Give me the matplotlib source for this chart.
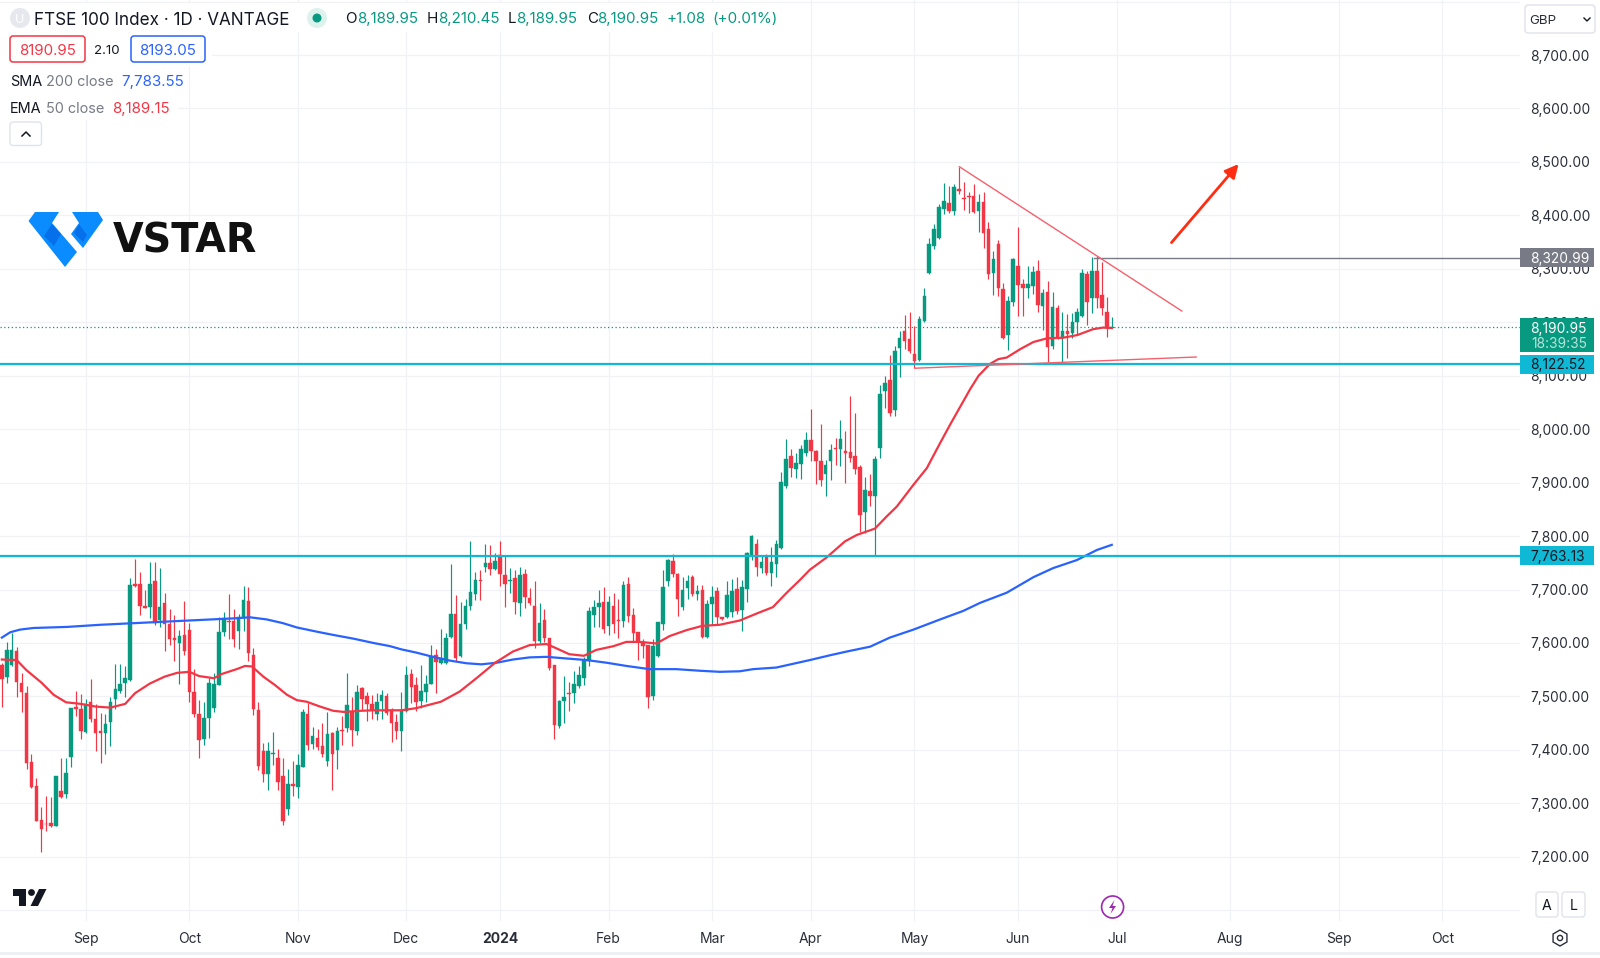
"""
FTSE 100 daily candlestick chart, VANTAGE feed, with SMA 200 and EMA 50.
"""

import matplotlib.pyplot as plt
import numpy as np
from matplotlib.patches import Circle, FancyBboxPatch, Polygon, Rectangle, RegularPolygon

plt.rcParams["font.family"] = ["Inter", "Liberation Sans", "DejaVu Sans"]

opens = [
    7559, 7537, 7559, 7585, 7526, 7506, 7377, 7332, 7269, 7262,
    7264, 7258, 7323, 7317, 7386, 7481, 7476, 7434, 7489, 7458,
    7435, 7432, 7452, 7496, 7511, 7526, 7531, 7710, 7711, 7669,
    7667, 7716, 7643, 7674, 7636, 7610, 7600, 7614, 7625, 7509,
    7468, 7421, 7460, 7478, 7521, 7621, 7642, 7642, 7623, 7646,
    7679, 7577, 7475, 7397, 7355, 7392, 7384, 7351, 7289, 7336,
    7331, 7368, 7467, 7411, 7423, 7407, 7380, 7431, 7400, 7437,
    7440, 7471, 7436, 7516, 7500, 7485, 7467, 7491, 7500, 7474,
    7452, 7436, 7473, 7542, 7521, 7491, 7508, 7524, 7577, 7562,
    7563, 7612, 7655, 7575, 7635, 7669, 7691, 7718, 7743, 7749,
    7738, 7764, 7728, 7715, 7722, 7675, 7729, 7685, 7670, 7603,
    7643, 7609, 7559, 7445, 7492, 7506, 7507, 7520, 7534, 7567,
    7652, 7668, 7677, 7632, 7669, 7643, 7642, 7710, 7653, 7620,
    7602, 7596, 7501, 7575, 7635, 7715, 7753, 7729, 7667, 7702,
    7724, 7691, 7699, 7612, 7673, 7697, 7648, 7648, 7658, 7701,
    7662, 7701, 7764, 7786, 7740, 7760, 7730, 7748, 7777, 7893,
    7950, 7926, 7935, 7955, 7980, 7959, 7941, 7916, 7940, 7965,
    7963, 7959, 7958, 7949, 7930, 7845, 7885, 7875, 7964, 8072,
    8092, 8035, 8151, 8184, 8168, 8140, 8129, 8203, 8292, 8343,
    8357, 8411, 8423, 8408, 8450, 8433, 8436, 8436, 8408, 8425,
    8374, 8292, 8346, 8262, 8176, 8238, 8305, 8271, 8264, 8268,
    8296, 8231, 8257, 8155, 8227, 8171, 8183, 8180, 8201, 8211,
    8291, 8246, 8295, 8251, 8220, 8189.95,
]
highs = [
    7562, 7602, 7618, 7593, 7543, 7520, 7393, 7347, 7294, 7314,
    7312, 7351, 7384, 7385, 7479, 7510, 7504, 7496, 7532, 7486,
    7469, 7468, 7498, 7560, 7560, 7556, 7721, 7757, 7732, 7699,
    7751, 7751, 7741, 7693, 7663, 7652, 7625, 7679, 7637, 7551,
    7494, 7490, 7534, 7543, 7648, 7658, 7691, 7663, 7655, 7706,
    7705, 7591, 7489, 7412, 7415, 7434, 7401, 7384, 7365, 7379,
    7392, 7476, 7487, 7443, 7439, 7451, 7471, 7434, 7443, 7463,
    7543, 7499, 7522, 7518, 7509, 7503, 7506, 7512, 7506, 7478,
    7468, 7509, 7556, 7552, 7537, 7559, 7540, 7596, 7588, 7627,
    7618, 7747, 7690, 7677, 7683, 7791, 7733, 7736, 7786, 7783,
    7768, 7791, 7764, 7741, 7736, 7743, 7739, 7702, 7715, 7674,
    7663, 7609, 7559, 7493, 7539, 7527, 7547, 7556, 7574, 7668,
    7681, 7700, 7704, 7688, 7693, 7683, 7715, 7724, 7665, 7621,
    7607, 7596, 7607, 7640, 7736, 7758, 7766, 7730, 7724, 7727,
    7727, 7708, 7708, 7680, 7706, 7704, 7648, 7715, 7719, 7723,
    7718, 7771, 7802, 7794, 7764, 7766, 7780, 7792, 7919, 7981,
    7963, 7955, 7971, 7994, 8037, 7961, 8010, 7943, 7972, 7983,
    8018, 7996, 8062, 8030, 7933, 7911, 7916, 7949, 8083, 8100,
    8138, 8156, 8184, 8214, 8219, 8193, 8212, 8265, 8358, 8383,
    8421, 8461, 8455, 8458, 8491, 8463, 8444, 8458, 8440, 8444,
    8388, 8333, 8354, 8274, 8249, 8321, 8378, 8280, 8305, 8305,
    8316, 8262, 8277, 8256, 8232, 8220, 8215, 8218, 8226, 8300,
    8296, 8323, 8324, 8313, 8248, 8210.45,
]
lows = [
    7481, 7526, 7556, 7499, 7471, 7365, 7328, 7266, 7209, 7249,
    7255, 7257, 7309, 7309, 7368, 7463, 7421, 7432, 7453, 7397,
    7376, 7392, 7407, 7476, 7506, 7499, 7529, 7705, 7652, 7665,
    7646, 7634, 7630, 7585, 7596, 7566, 7524, 7577, 7490, 7461,
    7385, 7409, 7423, 7471, 7521, 7613, 7607, 7592, 7588, 7622,
    7567, 7466, 7362, 7339, 7325, 7372, 7325, 7259, 7278, 7314,
    7309, 7367, 7400, 7401, 7400, 7387, 7370, 7324, 7364, 7409,
    7434, 7407, 7428, 7474, 7454, 7457, 7456, 7457, 7465, 7415,
    7420, 7397, 7471, 7487, 7473, 7479, 7490, 7523, 7507, 7560,
    7561, 7610, 7567, 7574, 7626, 7662, 7680, 7681, 7733, 7727,
    7736, 7706, 7668, 7693, 7655, 7650, 7665, 7671, 7590, 7599,
    7602, 7549, 7420, 7441, 7451, 7473, 7487, 7515, 7521, 7557,
    7630, 7630, 7618, 7615, 7618, 7610, 7630, 7640, 7602, 7568,
    7571, 7478, 7494, 7573, 7625, 7706, 7724, 7650, 7662, 7683,
    7688, 7681, 7609, 7610, 7633, 7635, 7643, 7646, 7648, 7655,
    7622, 7677, 7755, 7725, 7730, 7727, 7706, 7724, 7776, 7890,
    7911, 7908, 7906, 7949, 7941, 7898, 7894, 7874, 7904, 7933,
    7931, 7899, 7938, 7916, 7807, 7805, 7857, 7764, 7946, 8039,
    8025, 8025, 8097, 8150, 8142, 8115, 8128, 8201, 8291, 8337,
    8355, 8402, 8404, 8400, 8440, 8410, 8405, 8404, 8368, 8338,
    8280, 8251, 8249, 8168, 8148, 8231, 8212, 8212, 8246, 8252,
    8219, 8186, 8125, 8150, 8169, 8123, 8133, 8170, 8176, 8209,
    8194, 8218, 8227, 8213, 8173, 8189.95,
]
closes = [
    7532, 7587, 7587, 7527, 7508, 7376, 7330, 7267, 7252, 7261,
    7257, 7351, 7311, 7356, 7478, 7477, 7436, 7486, 7458, 7431,
    7432, 7449, 7489, 7514, 7524, 7534, 7708, 7707, 7670, 7666,
    7711, 7638, 7667, 7635, 7607, 7605, 7613, 7585, 7509, 7467,
    7418, 7459, 7526, 7524, 7621, 7646, 7639, 7607, 7648, 7680,
    7582, 7476, 7370, 7355, 7397, 7395, 7340, 7267, 7337, 7332,
    7371, 7471, 7409, 7425, 7406, 7393, 7430, 7392, 7435, 7435,
    7483, 7437, 7508, 7496, 7486, 7474, 7489, 7502, 7469, 7450,
    7436, 7474, 7540, 7517, 7490, 7510, 7524, 7575, 7565, 7571,
    7610, 7655, 7571, 7635, 7669, 7695, 7718, 7715, 7749, 7739,
    7754, 7729, 7710, 7718, 7676, 7728, 7686, 7675, 7604, 7638,
    7609, 7554, 7446, 7492, 7498, 7505, 7524, 7540, 7568, 7659,
    7667, 7674, 7627, 7677, 7635, 7642, 7708, 7650, 7619, 7604,
    7594, 7498, 7594, 7640, 7704, 7756, 7729, 7683, 7700, 7715,
    7691, 7697, 7612, 7672, 7686, 7648, 7644, 7690, 7697, 7660,
    7704, 7769, 7800, 7743, 7751, 7731, 7751, 7786, 7901, 7945,
    7927, 7936, 7963, 7980, 7959, 7941, 7905, 7933, 7961, 7962,
    7981, 7956, 7946, 7925, 7840, 7886, 7874, 7945, 8065, 8086,
    8030, 8146, 8170, 8165, 8146, 8127, 8206, 8249, 8346, 8375,
    8416, 8427, 8409, 8453, 8446, 8431, 8435, 8406, 8425, 8367,
    8291, 8318, 8264, 8170, 8240, 8319, 8269, 8264, 8272, 8294,
    8232, 8254, 8154, 8229, 8170, 8184, 8178, 8201, 8220, 8292,
    8238, 8295, 8245, 8227, 8190, 8190.95,
]

ema_bars = [
    0, 3, 5, 8, 10.5, 13, 16, 19, 22, 25, 27, 30, 33, 35.5, 38, 40, 43, 44.6, 47.6, 49.3,
    50.7, 53, 55.4, 57.8, 59.8, 61.8, 64.5, 67.2, 69.3, 72.6, 75.3, 78, 81, 84, 89, 92.8,
    96.2, 100, 103.6, 107, 110.4, 112.4, 115, 118, 120.5, 124, 126.6, 129.3, 132.7, 135.4,
    138.8, 142, 145.5, 149.6, 153, 156.3, 159, 161.8, 163.8, 167.2, 170.9, 173.3, 177,
    179.4, 181.4, 184.8, 187.5, 190.2, 192.2, 196.3, 198, 200.3, 202, 203.7, 206.5, 209.1,
    211.9, 215.1, 218, 221.2, 223.2, 225,
]
ema_values = [
    7569, 7568, 7549, 7526, 7503, 7489, 7486, 7481, 7479, 7486, 7506, 7524, 7537, 7544, 7546, 7538, 7534, 7542, 7551, 7557,
    7556, 7537, 7521, 7503, 7493, 7490, 7481, 7473, 7471, 7473, 7474, 7474, 7474, 7478, 7490, 7509,
    7534, 7563, 7584, 7596, 7598, 7590, 7579, 7576, 7587, 7594, 7602, 7602, 7599, 7613,
    7624, 7632, 7634, 7642, 7655, 7667, 7693, 7718, 7737, 7760, 7790, 7802, 7814,
    7837, 7855, 7896, 7927, 7974, 8008, 8075, 8100, 8122, 8131, 8134, 8150, 8163,
    8170, 8171, 8176, 8187, 8190, 8189.15,
]
sma_bars = [
    0, 1.7, 3.7, 6.4, 13.2, 20, 26.7, 33.4, 40.2, 47, 50.3, 53.7, 57, 59.8, 63.9, 67.2, 71.3, 75.3, 78.7,
    81, 84, 87.4, 90.8, 94.2, 97.2, 100.3, 103.6, 107, 110.4, 114.4, 118.5, 122.6, 126.6, 131.3, 136.7,
    141.5, 145.5, 149.6, 152.3, 157, 163.8, 167.9, 171.3, 176, 180, 184.8, 190.2, 194.9, 198.3, 203.7,
    209.1, 213.1, 217.9, 222, 225,
]
sma_values = [
    7610, 7620, 7625, 7628, 7630, 7634, 7637, 7640, 7643, 7646, 7648, 7644, 7637, 7629, 7621, 7615, 7608, 7600, 7594,
    7588, 7582, 7574, 7567, 7562, 7560, 7563, 7569, 7573, 7574, 7571, 7568, 7563, 7557, 7551, 7551,
    7548, 7546, 7547, 7551, 7554, 7568, 7577, 7584, 7593, 7610, 7625, 7644, 7660, 7675, 7694,
    7723, 7740, 7755, 7774, 7783.55,
]

price_ticks = [8800, 8700, 8600, 8500, 8400, 8300, 8200, 8100, 8000, 7900, 7800, 7700, 7600, 7500, 7400, 7300, 7200, 7100]
price_labels = ["", "8,700.00", "8,600.00", "8,500.00", "8,400.00", "8,300.00", "8,200.00", "8,100.00", "8,000.00",
                "7,900.00", "7,800.00", "7,700.00", "7,600.00", "7,500.00", "7,400.00", "7,300.00", "7,200.00", ""]
month_bars = [17, 38, 60, 82, 101, 123, 144, 164, 185, 206, 226, 249, 271, 292]
month_labels = ["Sep", "Oct", "Nov", "Dec", "2024", "Feb", "Mar", "Apr", "May", "Jun", "Jul", "Aug", "Sep", "Oct"]

last_price = 8190.95
support_level = 8122.52
lower_level = 7763.13
swing_high = 8320.99

# Hand drawn trend lines and arrow: bar position, price
falling_bars = [194.1, 239.2]
falling_prices = [8491, 8221]
rising_bars = [185.1, 242.1]
rising_prices = [8114, 8135]
swing_start = 221.3
arrow_bars = [237.1, 250.7]
arrow_prices = [8349, 8496]

GREEN = "#089981"
RED = "#f23645"
BLUE = "#2962ff"
CYAN = "#0fb9d6"
GREY = "#787b86"
DARK = "#131722"
GRID = "#f1f2f6"
BORDER = "#e0e3eb"

fig = plt.figure(figsize=(16, 9.58), dpi=100)
ax = fig.add_axes([0, 37 / 958, 1520 / 1600, 921 / 958])
ax.set_xlim(-0.373, 307.75)
ax.set_ylim(7079.8, 8802.9)
for spine in ax.spines.values():
    spine.set_visible(False)

ax.set_yticks(price_ticks, price_labels)
ax.set_xticks(month_bars, month_labels)
ax.yaxis.tick_right()
ax.tick_params(axis="y", length=0, pad=7.2, labelsize=9.9, labelcolor="#2a2e39")
ax.tick_params(axis="x", length=0, pad=8, labelsize=10, labelcolor="#2a2e39")
ax.get_xticklabels()[4].set_fontweight("bold")
for tick in ax.get_yticklabels():
    tick.set_va("center_baseline")
ax.grid(True, color=GRID, linewidth=0.9)
ax.set_axisbelow(True)

o = np.array(opens)
h = np.array(highs)
l = np.array(lows)
c = np.array(closes)
bars = np.arange(len(c))
colors = np.where(c >= o, GREEN, RED)

# Candles
ax.vlines(bars, l, h, colors=colors, linewidth=0.85, zorder=2)
ax.bar(bars, np.abs(c - o), bottom=np.minimum(o, c), width=0.72, color=colors,
       edgecolor=colors, linewidth=0.3, zorder=3)

# Indicators
ax.plot(sma_bars, sma_values, color=BLUE, linewidth=1.6, zorder=4)
ax.plot(ema_bars, ema_values, color=RED, linewidth=1.6, zorder=4)

# Levels and drawings
ax.axhline(last_price, color=GREEN, linewidth=0.9, linestyle=(0, (1, 2)), zorder=4)
ax.axhline(support_level, color=CYAN, linewidth=1.6, zorder=5)
ax.axhline(lower_level, color=CYAN, linewidth=1.6, zorder=5)
ax.plot([swing_start, 307.75], [swing_high, swing_high], color=GREY, linewidth=1.0, zorder=5)
ax.plot(falling_bars, falling_prices, color="#f6606c", linewidth=1.0, zorder=5)
ax.plot(rising_bars, rising_prices, color="#f6606c", linewidth=1.0, zorder=5)
ax.annotate("", xy=(arrow_bars[1], arrow_prices[1]), xytext=(arrow_bars[0], arrow_prices[0]),
            arrowprops=dict(arrowstyle="-|>", color="#ff2d12", lw=2.0, mutation_scale=20,
                            shrinkA=0, shrinkB=0), zorder=6)

# Overlay in pixels for the platform furniture
ui = fig.add_axes([0, 0, 1, 1], facecolor="none", zorder=5)
ui.set_xlim(0, 1600)
ui.set_ylim(958, 0)
ui.axis("off")


def label(x, y, text, color=DARK, size=10.9, ha="left", **kwargs):
    ui.text(x, y, text, color=color, fontsize=size, ha=ha, va="center_baseline", **kwargs)


def box(x0, y0, x1, y1, edge=BORDER, face="white", lw=1.0, radius=3):
    ui.add_patch(FancyBboxPatch((x0 + radius, y0 + radius), x1 - x0 - 2 * radius, y1 - y0 - 2 * radius,
                                boxstyle=f"round,pad={radius},rounding_size={radius}",
                                edgecolor=edge, facecolor=face, linewidth=lw))


# White backing of the legend rows
for x0, y0, x1, y1 in [(0, 3, 785, 32), (0, 32, 212, 66), (0, 66, 188, 94), (0, 94, 178, 120), (0, 120, 47, 150)]:
    ui.add_patch(Rectangle((x0, y0), x1 - x0, y1 - y0, facecolor="white", edgecolor="none"))

ui.add_patch(Circle((20, 18), 10, facecolor="#e6e8ee", edgecolor="none"))
label(20, 18, "U", color="white", size=9, ha="center")
label(34.5, 18, "FTSE 100 Index · 1D · VANTAGE", size=12.3)
ui.add_patch(Circle((317, 18), 10, facecolor="#def2ed", edgecolor="none"))
ui.add_patch(Circle((317, 18), 4.5, facecolor=GREEN, edgecolor="none"))

for x, text, color in [
    (345.4, "O", DARK), (357, "8,189.95", GREEN), (426.5, "H", DARK), (438, "8,210.45", GREEN),
    (507.6, "L", DARK), (516, "8,189.95", GREEN), (586.7, "C", DARK), (597, "8,190.95", GREEN),
    (666, "+1.08", GREEN), (712, "(+0.01%)", GREEN),
]:
    label(x, 17.5, text, color=color)

box(10, 36, 85, 62, edge=RED, lw=1.1)
label(47.5, 49, "8190.95", color=RED, ha="center")
label(107, 49, "2.10", size=9.6, ha="center")
box(131, 36, 205, 62, edge=BLUE, lw=1.1)
label(168, 49, "8193.05", color=BLUE, ha="center")

label(10, 80, "SMA", size=10.4)
label(46.4, 80, "200 close", color=GREY, size=10.4)
label(121.4, 80, "7,783.55", color=BLUE)
label(10, 107, "EMA", size=10.4)
label(46, 107, "50 close", color=GREY, size=10.4)
label(111.7, 107, "8,189.15", color=RED)
box(10, 122, 41.5, 145.5)
ui.plot([22, 26, 30], [136, 132, 136], color=DARK, linewidth=1.1)

# Logo
ui.add_patch(Polygon([(35, 212), (59, 212), (52, 223), (77, 252), (65, 267), (28.5, 221)], facecolor="#0a8cff", edgecolor="none"))
ui.add_patch(Polygon([(44, 236), (52, 224), (61, 234), (54, 246)], facecolor="#0670ea", edgecolor="none"))
ui.add_patch(Polygon([(72, 212), (98, 212), (103, 220), (83, 248), (71, 234), (79, 223)], facecolor="#0a8cff", edgecolor="none"))
ui.add_patch(Polygon([(79, 224), (87, 235), (83, 242), (74, 233)], facecolor="#0670ea", edgecolor="none"))
label(113, 237, "VSTAR", color="#111111", size=28.5, fontweight="bold", fontfamily="DejaVu Sans")

# Currency selector
box(1525, 5, 1595, 33)
label(1529, 19.5, "GBP", color="#2a2e39", size=9.6)
ui.plot([1584, 1587, 1590], [18, 21, 18], color=DARK, linewidth=1.0)

# Price tags on the scale
ui.add_patch(Rectangle((1520, 248), 74, 19, facecolor=GREY, edgecolor="none"))
label(1530.5, 257.5, f"{swing_high:,.2f}", color="white", size=9.9)
ui.add_patch(Rectangle((1520, 318), 74, 34, facecolor=GREEN, edgecolor="none"))
label(1530.5, 327, f"{last_price:,.2f}", color="white", size=9.9)
label(1531, 342.5, "18:39:35", color="#b7e4da", size=9.9)
ui.add_patch(Rectangle((1520, 354.5), 74, 19, facecolor=CYAN, edgecolor="none"))
label(1530.5, 364, f"{support_level:,.2f}", size=9.9)
ui.add_patch(Rectangle((1520, 546), 74, 18.5, facecolor=CYAN, edgecolor="none"))
label(1530.5, 555.5, f"{lower_level:,.2f}", size=9.9)

# Bottom furniture
ui.add_patch(Polygon([(13, 889), (26, 889), (26, 906), (19, 906), (19, 896), (13, 896)], facecolor=DARK, edgecolor="none"))
ui.add_patch(Circle((31.5, 892.5), 3.4, facecolor=DARK, edgecolor="none"))
ui.add_patch(Polygon([(39, 889), (46.5, 889), (38, 906), (30.5, 906)], facecolor=DARK, edgecolor="none"))

ui.add_patch(Circle((1112.6, 907), 11, facecolor="white", edgecolor="#9c27b0", linewidth=1.2))
ui.add_patch(Polygon([(1114.5, 900), (1109, 908), (1112.5, 908), (1110.5, 914), (1116, 906), (1112.5, 906)],
                     facecolor="#9c27b0", edgecolor="none"))
box(1536, 892, 1558, 917)
label(1547, 905, "A", size=10.2, ha="center")
box(1562, 892, 1585, 917)
label(1573.5, 905, "L", size=10.2, ha="center")
ui.add_patch(RegularPolygon((1560, 938), 6, radius=8, facecolor="white", edgecolor="#2a2e39", linewidth=1.0))
ui.add_patch(Circle((1560, 938), 2.6, facecolor="white", edgecolor="#2a2e39", linewidth=1.0))
ui.add_patch(Rectangle((0, 951.5), 1600, 3, facecolor="#eef0f6", edgecolor="none"))

fig.savefig("out.png", dpi=100)
